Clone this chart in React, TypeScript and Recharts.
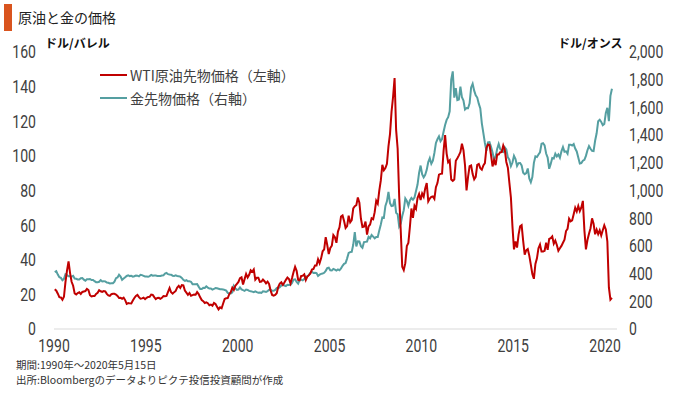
import React from "react";
import { LineChart, Line, XAxis, YAxis } from "recharts";

// monthly values, Jan 1990 .. May 2020
const wti1990s = [
  22.9, 22.1, 20.4, 18.4, 18.2, 16.9, 18.6, 27.2, 33.7, 39.0, 32.3, 27.3,
  25.0, 20.5, 19.9, 20.8, 21.2, 20.2, 21.4, 21.7, 21.9, 23.2, 22.5, 19.5,
  18.8, 19.0, 19.0, 20.2, 20.9, 22.4, 21.8, 21.4, 21.9, 21.7, 20.3, 19.4,
  19.1, 20.1, 20.3, 20.3, 19.9, 19.1, 17.9, 18.0, 17.5, 18.1, 16.7, 14.5,
  15.0, 14.8, 14.7, 16.4, 17.9, 19.1, 19.7, 18.4, 17.5, 17.7, 18.1, 17.2,
  18.0, 18.5, 18.6, 19.9, 19.7, 18.4, 17.3, 17.9, 18.0, 17.4, 18.0, 19.0,
  18.9, 19.1, 21.4, 23.6, 21.2, 20.4, 21.3, 22.0, 24.0, 24.9, 23.7, 25.4,
  25.2, 22.2, 21.0, 19.7, 20.8, 19.2, 19.6, 19.9, 19.8, 21.3, 20.2, 18.3,
  16.7, 16.1, 15.0, 15.4, 14.9, 13.7, 14.1, 13.4, 15.0, 14.4, 12.9, 11.3,
  12.5, 12.0, 14.7, 17.3, 17.8, 17.9, 20.1, 21.3, 23.9, 22.6, 25.0, 26.1,
];
const wti2000s = [
  27.2, 29.4, 29.9, 25.7, 28.8, 31.8, 29.7, 31.3, 33.9, 33.1, 34.4, 28.5,
  29.6, 29.6, 27.2, 27.4, 28.6, 27.6, 26.4, 27.4, 26.0, 22.2, 19.7, 19.3,
  19.7, 20.7, 24.4, 26.2, 27.0, 25.5, 26.9, 28.4, 29.7, 28.9, 26.3, 29.4,
  32.9, 35.9, 33.6, 28.3, 28.1, 30.7, 30.8, 31.6, 28.3, 30.3, 31.1, 32.1,
  34.3, 34.7, 36.7, 36.7, 40.3, 38.0, 40.8, 44.9, 46.0, 53.1, 48.5, 43.3,
  46.8, 48.1, 54.2, 53.0, 49.8, 56.3, 58.7, 65.0, 65.6, 62.4, 58.3, 59.4,
  65.5, 61.6, 62.9, 69.7, 70.9, 71.5, 76.0, 73.0, 63.8, 58.9, 59.1, 62.0,
  54.5, 59.3, 60.4, 63.9, 63.4, 67.5, 74.1, 72.4, 79.9, 85.8, 94.8, 91.7,
  93.0, 95.4, 105.5, 112.6, 125.4, 134.0, 145.0, 115.0, 104.1, 76.6, 57.3, 36.0,
  34.0, 38.0, 47.9, 49.7, 59.0, 69.6, 64.2, 71.1, 69.4, 75.7, 78.0, 74.5,
];
const wti2010s = [
  78.3, 76.4, 81.2, 84.3, 73.7, 75.3, 76.3, 76.6, 75.2, 81.9, 84.3, 89.2,
  89.6, 89.7, 102.9, 112.0, 101.3, 96.3, 97.3, 86.3, 85.5, 86.3, 97.2, 98.6,
  100.3, 102.2, 107.0, 103.3, 94.7, 80.0, 87.9, 94.1, 94.5, 89.5, 86.5, 87.9,
  94.8, 95.3, 92.9, 92.0, 94.5, 95.8, 104.6, 106.6, 106.3, 100.5, 93.9, 97.6,
  94.6, 100.8, 100.8, 102.1, 102.2, 106.0, 103.6, 96.5, 93.2, 84.4, 75.8, 59.3,
  46.0, 50.6, 47.0, 54.5, 59.3, 60.0, 50.9, 42.9, 45.5, 46.2, 42.4, 37.2,
  31.7, 29.0, 37.6, 40.8, 46.7, 48.8, 44.7, 44.7, 45.2, 49.8, 45.7, 52.0,
  52.5, 53.5, 49.3, 51.1, 48.5, 45.2, 46.6, 48.0, 49.8, 51.6, 56.6, 57.9,
  63.7, 62.2, 62.7, 66.3, 70.0, 67.9, 71.0, 68.1, 70.2, 74.0, 57.0, 46.0,
  51.4, 55.0, 58.2, 63.9, 60.8, 54.7, 57.4, 54.8, 57.0, 54.0, 57.0, 59.9,
];
const wti2020 = [57.5, 50.5, 24.0, 17.0, 18.0];

const gold1990s = [
  410, 417, 393, 374, 369, 352, 362, 395, 389, 381, 381, 378,
  384, 364, 363, 358, 357, 367, 368, 356, 349, 359, 360, 361,
  354, 354, 345, 338, 337, 341, 353, 343, 345, 344, 335, 334,
  329, 330, 330, 342, 367, 372, 392, 379, 355, 364, 373, 383,
  387, 382, 384, 378, 381, 386, 385, 380, 391, 389, 384, 379,
  379, 377, 382, 391, 385, 387, 386, 383, 383, 383, 386, 387,
  400, 405, 396, 393, 392, 385, 383, 387, 383, 381, 378, 369,
  355, 347, 352, 344, 344, 341, 324, 324, 323, 325, 306, 289,
  289, 297, 296, 308, 299, 292, 293, 284, 289, 296, 294, 291,
  287, 287, 286, 282, 277, 261, 256, 257, 265, 311, 293, 283,
];
const gold2000s = [
  285, 300, 286, 280, 275, 285, 282, 275, 273, 270, 266, 272,
  266, 262, 263, 261, 272, 270, 268, 273, 283, 283, 276, 276,
  282, 296, 294, 302, 314, 322, 314, 310, 319, 317, 319, 333,
  357, 359, 340, 328, 355, 356, 351, 360, 379, 379, 389, 407,
  414, 405, 406, 404, 383, 392, 398, 400, 406, 420, 439, 442,
  424, 423, 434, 429, 422, 430, 424, 437, 456, 470, 476, 510,
  549, 555, 557, 610, 700, 596, 633, 632, 598, 586, 627, 629,
  631, 665, 655, 679, 667, 655, 665, 665, 712, 754, 806, 803,
  889, 922, 990, 909, 888, 890, 939, 839, 829, 740, 760, 816,
  858, 943, 925, 890, 928, 946, 934, 949, 996, 1043, 1127, 1180,
];
const gold2010s = [
  1118, 1095, 1113, 1149, 1205, 1233, 1193, 1215, 1271, 1343, 1370, 1391,
  1356, 1372, 1424, 1473, 1510, 1529, 1572, 1800, 1860, 1670, 1739, 1652,
  1656, 1750, 1673, 1650, 1585, 1596, 1594, 1630, 1744, 1770, 1721, 1688,
  1671, 1627, 1593, 1485, 1414, 1343, 1286, 1347, 1349, 1316, 1275, 1225,
  1244, 1300, 1336, 1299, 1288, 1279, 1311, 1296, 1239, 1222, 1176, 1202,
  1251, 1227, 1178, 1198, 1199, 1181, 1129, 1118, 1125, 1159, 1086, 1060,
  1097, 1200, 1246, 1242, 1260, 1276, 1337, 1341, 1326, 1267, 1238, 1157,
  1192, 1234, 1231, 1266, 1246, 1260, 1236, 1283, 1314, 1280, 1283, 1265,
  1331, 1331, 1325, 1335, 1303, 1282, 1238, 1195, 1198, 1215, 1221, 1250,
  1291, 1320, 1301, 1286, 1284, 1359, 1413, 1500, 1511, 1495, 1471, 1480,
];
const gold2020 = [1560, 1597, 1500, 1683, 1735];

const wti = [...wti1990s, ...wti2000s, ...wti2010s, ...wti2020];
const gold = [...gold1990s, ...gold2000s, ...gold2010s, ...gold2020];

const yearTicks = [1990, 1995, 2000, 2005, 2010, 2015, 2020];
const oilTicks = [0, 20, 40, 60, 80, 100, 120, 140, 160];
const goldTicks = [0, 200, 400, 600, 800, 1000, 1200, 1400, 1600, 1800, 2000];

const data = wti.map((v, i) => ({
  t: 1990 + i / 12 + 1 / 24,
  wti: v,
  gold: gold[i],
}));

const RED = "#c00000";
const TEAL = "#559fa1";
const JP_FONT = "'Noto Sans CJK JP', sans-serif";

const fmt = (v: number) => v.toString().replace(/\B(?=(\d{3})+(?!\d))/g, ",");

// narrow tick text, the source uses a condensed face
const NarrowTick = (props: any) => {
  const { x, y, payload, anchor, dy, format } = props;
  const label = format ? format(payload.value) : payload.value;
  return (
    <text
      transform={`translate(${x},${y}) scale(0.78,1)`}
      textAnchor={anchor}
      dy={dy}
      fontSize={18}
      fill="#404040"
      fontFamily="Roboto, sans-serif"
    >
      {label}
    </text>
  );
};

const legendItems = [
  { label: "WTI原油先物価格（左軸）", color: RED },
  { label: "金先物価格（右軸）", color: TEAL },
];

export default function App() {
  return (
    <div
      style={{
        position: "absolute",
        left: 0,
        top: 0,
        width: 680,
        height: 393,
        background: "#fff",
        fontFamily: JP_FONT,
      }}
    >
      <div style={{ position: "absolute", left: 4, top: 4, width: 8, height: 27, background: "#d9541e" }} />
      <div style={{ position: "absolute", left: 18, top: 7, fontSize: 14, color: "#222", lineHeight: "20px" }}>
        原油と金の価格
      </div>
      <div style={{ position: "absolute", left: 45, top: 35, fontSize: 12, fontWeight: 700, color: "#111", lineHeight: "16px" }}>
        ドル/バレル
      </div>
      <div style={{ position: "absolute", left: 558, top: 35, fontSize: 12, fontWeight: 700, color: "#111", lineHeight: "16px" }}>
        ドル/オンス
      </div>
      <LineChart
        width={680}
        height={393}
        data={data}
        margin={{ top: 52, right: 0, left: 0, bottom: 44 }}
      >
        <XAxis
          dataKey="t"
          type="number"
          domain={[1990, 2020.65]}
          ticks={yearTicks}
          tickLine={false}
          tickSize={0}
          tickMargin={10}
          height={20}
          axisLine={{ stroke: "#d9d9d9" }}
          tick={<NarrowTick anchor="middle" dy="0.71em" />}
        />
        <YAxis
          yAxisId="left"
          domain={[0, 160]}
          ticks={oilTicks}
          width={54}
          axisLine={false}
          tickLine={false}
          tickSize={0}
          tickMargin={18}
          tick={<NarrowTick anchor="end" dy="0.355em" />}
        />
        <YAxis
          yAxisId="right"
          orientation="right"
          domain={[0, 2000]}
          ticks={goldTicks}
          width={63}
          axisLine={false}
          tickLine={false}
          tickSize={0}
          tickMargin={12}
          tick={<NarrowTick anchor="start" dy="0.355em" format={fmt} />}
        />
        <Line
          yAxisId="right"
          dataKey="gold"
          stroke={TEAL}
          strokeWidth={2}
          dot={false}
          isAnimationActive={false}
        />
        <Line
          yAxisId="left"
          dataKey="wti"
          stroke={RED}
          strokeWidth={2}
          dot={false}
          isAnimationActive={false}
        />
      </LineChart>
      <div style={{ position: "absolute", left: 100, top: 63, fontSize: 14, color: "#404040" }}>
        {legendItems.map((it) => (
          <div key={it.label} style={{ display: "flex", alignItems: "center", height: 23 }}>
            <span style={{ width: 27, height: 2, background: it.color, marginRight: 3 }} />
            <span>{it.label}</span>
          </div>
        ))}
      </div>
      <div style={{ position: "absolute", left: 16, top: 357, fontSize: 10.5, color: "#333", lineHeight: "15px" }}>
        <div>期間:1990年～2020年5月15日</div>
        <div>出所:Bloombergのデータよりピクテ投信投資顧問が作成</div>
      </div>
    </div>
  );
}
